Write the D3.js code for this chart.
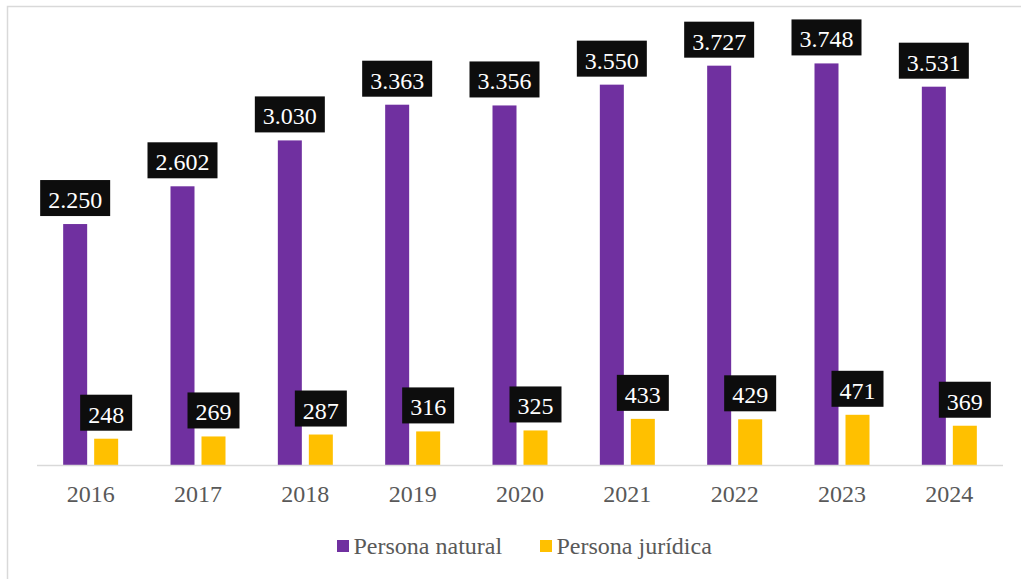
<!DOCTYPE html>
<html><head><meta charset="utf-8">
<script src="https://cdn.jsdelivr.net/npm/d3@7"></script>
<style>body{margin:0;background:#fff}svg{display:block}</style>
</head><body>
<svg id="c" width="1021" height="579"></svg>
<script>
const years = ["2016","2017","2018","2019","2020","2021","2022","2023","2024"];
const natural = [2250,2602,3030,3363,3356,3550,3727,3748,3531];
const juridica = [248,269,287,316,325,433,429,471,369];
const seriesNames = ["Persona natural","Persona jurídica"];
const colors = ["#7030A0","#FFC000"];

const svg = d3.select("#c");
const font = "'Liberation Serif','Times New Roman',serif";
svg.append("rect").attr("x",7.5).attr("y",6.5).attr("width",1030).attr("height",600)
  .attr("fill","none").attr("stroke","#d9d9d9").attr("stroke-width",1.5);

const x = d3.scaleBand().domain(years).range([37,1003]).padding(0);
const y = d3.scaleLinear().domain([0,4000]).range([465.3,36.4]);
const fmt = v => d3.format(",")(v).replace(/,/g,".");

const data = [natural, juridica];
const offsets = [-15.5, 15.5];
const bw = 24;

data.forEach((vals,si)=>{
  const g = svg.append("g");
  g.selectAll("rect").data(vals).join("rect")
    .attr("x",(d,i)=>x(years[i])+x.bandwidth()/2+offsets[si]-bw/2)
    .attr("y",d=>y(d)).attr("width",bw).attr("height",d=>y(0)-y(d))
    .attr("fill",colors[si]);
});

svg.append("line").attr("x1",37).attr("x2",1003).attr("y1",465.5).attr("y2",465.5)
  .attr("stroke","#d9d9d9").attr("stroke-width",1.5);

data.forEach((vals,si)=>{
  vals.forEach((v,i)=>{
    const cx = x(years[i])+x.bandwidth()/2+offsets[si];
    const bottom = y(v)-8;
    const g = svg.append("g");
    const t = g.append("text").attr("x",cx).attr("y",bottom-8).attr("text-anchor","middle")
      .style("font-family",font).style("font-size","24px").attr("fill","#fff").text(fmt(v));
    const w = t.node().getComputedTextLength();
    g.insert("rect","text").attr("x",cx-w/2-8).attr("y",bottom-36).attr("width",w+16).attr("height",36)
      .attr("fill","#0d0d0d");
  });
});

const xa = svg.append("g").attr("transform","translate(0,465.3)")
  .call(d3.axisBottom(x).tickSize(0).tickPadding(0));
xa.select(".domain").remove();
xa.selectAll("text").attr("y",37).attr("dy",0).style("font-family",font).style("font-size","24px").attr("fill","#595959");

const legX = [337, 540];
seriesNames.forEach((n,i)=>{
  svg.append("rect").attr("x",legX[i]).attr("y",540).attr("width",12).attr("height",12).attr("fill",colors[i]);
  svg.append("text").attr("x",legX[i]+16.5).attr("y",553.5).style("font-family",font).style("font-size","24px")
    .attr("fill","#595959").text(n);
});
</script>
</body></html>
